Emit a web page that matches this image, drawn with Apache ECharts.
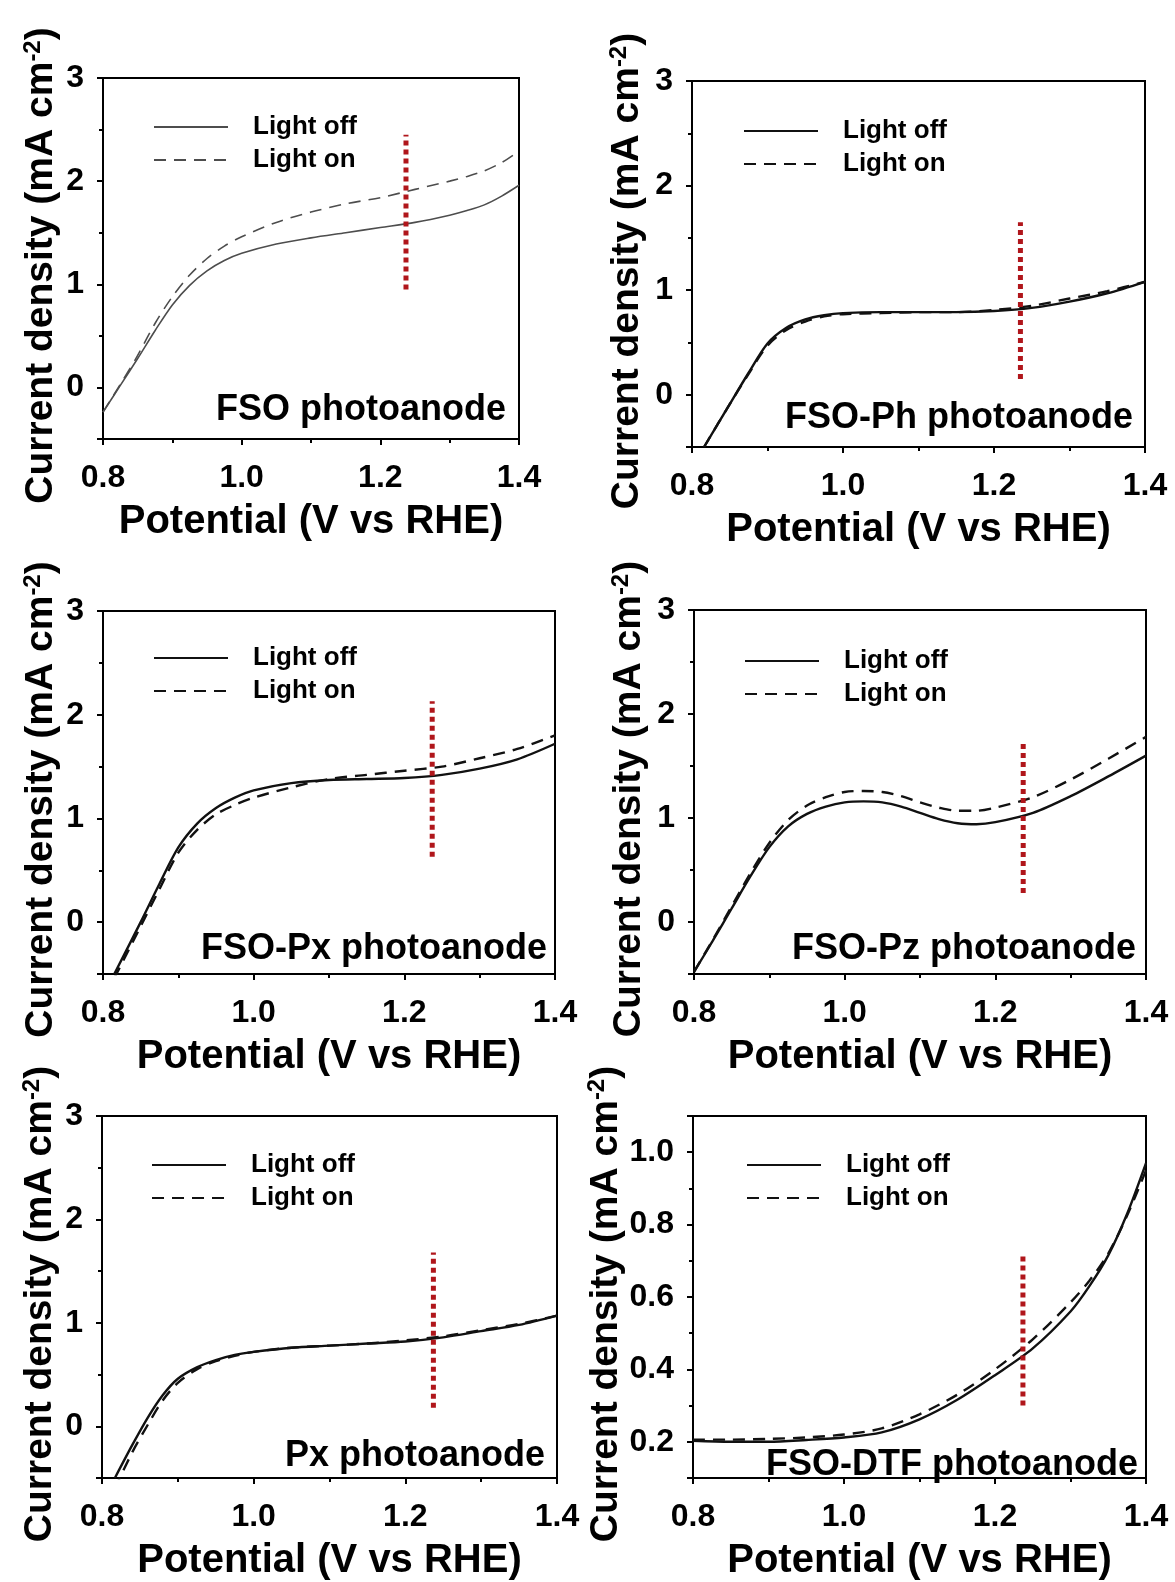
<!DOCTYPE html>
<html><head><meta charset="utf-8">
<script src="https://cdn.jsdelivr.net/npm/echarts@6/dist/echarts.min.js"></script>
<style>html,body{margin:0;padding:0;background:#fff}#c{width:1175px;height:1582px}</style>
</head><body><div id="c"></div>
<script>
const FONT = "'Liberation Sans', Arial, Helvetica, sans-serif";

// ---------- data ----------
const legendNames = ['Light off', 'Light on'];
const xTickLabels = ['0.8', '1.0', '1.2', '1.4'];
const panelNames = ['FSO photoanode', 'FSO-Ph photoanode', 'FSO-Px photoanode', 'FSO-Pz photoanode', 'Px photoanode', 'FSO-DTF photoanode'];

const fsoX   = [0.80, 0.825, 0.85, 0.875, 0.90, 0.925, 0.95, 0.975, 1.00, 1.05, 1.10, 1.15, 1.20, 1.25, 1.30, 1.325, 1.35, 1.375, 1.40];
const fsoOff = [-0.24, 0.02, 0.28, 0.55, 0.80, 0.99, 1.13, 1.23, 1.30, 1.39, 1.45, 1.50, 1.55, 1.60, 1.67, 1.715, 1.77, 1.855, 1.96];
const fsoOn  = [-0.24, 0.03, 0.31, 0.62, 0.88, 1.09, 1.25, 1.37, 1.46, 1.60, 1.70, 1.78, 1.84, 1.92, 2.00, 2.045, 2.10, 2.18, 2.29];

const phX   = [0.816, 0.85, 0.875, 0.90, 0.925, 0.95, 0.975, 1.00, 1.05, 1.10, 1.15, 1.20, 1.25, 1.30, 1.35, 1.40];
const phOff = [-0.50, -0.09, 0.21, 0.49, 0.64, 0.72, 0.76, 0.78, 0.79, 0.79, 0.79, 0.80, 0.83, 0.89, 0.97, 1.08];
const phOn  = [-0.50, -0.09, 0.20, 0.47, 0.62, 0.70, 0.75, 0.77, 0.78, 0.79, 0.79, 0.81, 0.85, 0.92, 0.99, 1.08];

const pxfX   = [0.815, 0.85, 0.875, 0.90, 0.925, 0.95, 0.975, 1.00, 1.05, 1.10, 1.15, 1.20, 1.25, 1.30, 1.35, 1.40];
const pxfOff = [-0.50, 0.00, 0.37, 0.72, 0.95, 1.10, 1.20, 1.27, 1.34, 1.37, 1.38, 1.39, 1.42, 1.48, 1.57, 1.72];
const pxfOn  = [-0.54, -0.04, 0.32, 0.67, 0.89, 1.04, 1.13, 1.20, 1.30, 1.38, 1.42, 1.46, 1.50, 1.58, 1.67, 1.80];

const pzX   = [0.80, 0.825, 0.85, 0.875, 0.90, 0.925, 0.95, 0.975, 1.00, 1.025, 1.05, 1.075, 1.10, 1.125, 1.15, 1.175, 1.20, 1.25, 1.30, 1.35, 1.40];
const pzOff = [-0.48, -0.18, 0.13, 0.44, 0.72, 0.92, 1.04, 1.11, 1.15, 1.16, 1.15, 1.11, 1.05, 0.99, 0.95, 0.94, 0.96, 1.05, 1.21, 1.40, 1.60];
const pzOn  = [-0.48, -0.17, 0.15, 0.47, 0.76, 0.98, 1.12, 1.20, 1.25, 1.26, 1.25, 1.21, 1.15, 1.10, 1.07, 1.07, 1.10, 1.20, 1.37, 1.57, 1.78];

const pxX   = [0.817, 0.84, 0.86, 0.88, 0.90, 0.925, 0.95, 0.975, 1.00, 1.05, 1.10, 1.15, 1.20, 1.25, 1.30, 1.35, 1.40];
const pxOff = [-0.50, -0.18, 0.08, 0.30, 0.46, 0.57, 0.64, 0.69, 0.72, 0.76, 0.78, 0.80, 0.82, 0.86, 0.92, 0.98, 1.07];
const pxOn  = [-0.60, -0.25, 0.01, 0.25, 0.42, 0.55, 0.63, 0.68, 0.72, 0.76, 0.78, 0.80, 0.83, 0.87, 0.93, 0.99, 1.07];

const dtfX   = [0.80, 0.85, 0.90, 0.95, 1.00, 1.05, 1.10, 1.15, 1.20, 1.25, 1.30, 1.325, 1.35, 1.375, 1.40];
const dtfOff = [0.203, 0.200, 0.200, 0.205, 0.212, 0.226, 0.262, 0.316, 0.384, 0.458, 0.560, 0.630, 0.715, 0.830, 0.970];
const dtfOn  = [0.206, 0.206, 0.208, 0.212, 0.220, 0.237, 0.276, 0.330, 0.400, 0.483, 0.585, 0.645, 0.720, 0.825, 0.950];

// 1.23 V marker (x, y-from, y-to) for each panel
const markerX = [1.237, 1.235, 1.237, 1.237, 1.237, 1.237];
const markerFrom = [0.95, 0.15, 0.63, 0.28, 0.18, 0.30];
const markerTo   = [2.45, 1.65, 2.13, 1.75, 1.68, 0.72];

const yMin = [-0.5, -0.5, -0.5, -0.5, -0.5, 0.1];
const yMax = [3, 3, 3, 3, 3, 1.1];

const curves = [
  [fsoX, fsoOff, fsoOn], [phX, phOff, phOn], [pxfX, pxfOff, pxfOn],
  [pzX, pzOff, pzOn], [pxX, pxOff, pxOn], [dtfX, dtfOff, dtfOn]
];

// ---------- layout / style ----------
const layout = [
  {grid: {left: 103, top: 78, width: 416, height: 361}, legend: {left: 153, top: 114}, title: {right: 669, top: 392}, yGap: 42, color: '#4d4d4d', lw: 1.6},
  {grid: {left: 692, top: 81, width: 453, height: 366}, legend: {left: 743, top: 118}, title: {right: 42, top: 400}, yGap: 45, color: '#111', lw: 2.4},
  {grid: {left: 103, top: 611, width: 452, height: 363}, legend: {left: 153, top: 645}, title: {right: 628, top: 931}, yGap: 42, color: '#111', lw: 2.4},
  {grid: {left: 694, top: 610, width: 452, height: 364}, legend: {left: 744, top: 648}, title: {right: 39, top: 931}, yGap: 45, color: '#111', lw: 2.4},
  {grid: {left: 102, top: 1116, width: 455, height: 364}, legend: {left: 151, top: 1152}, title: {right: 630, top: 1438}, yGap: 42, color: '#111', lw: 2.4},
  {grid: {left: 693, top: 1116, width: 453, height: 364}, legend: {left: 746, top: 1152}, title: {right: 37, top: 1447}, yGap: 45, color: '#111', lw: 2.4}
];

const grids = [], xAxes = [], yAxes = [], series = [], legends = [], titles = [];
const axisLineStyle = {color: '#000', width: 2};

layout.forEach((L, i) => {
  grids.push(Object.assign({show: true, borderColor: '#000', borderWidth: 2, backgroundColor: 'transparent'}, L.grid));
  xAxes.push({
    gridIndex: i, type: 'value', min: 0.8, max: 1.4, interval: 0.2,
    axisLine: {show: true, onZero: false, lineStyle: axisLineStyle},
    axisTick: {show: true, inside: false, length: 6, lineStyle: axisLineStyle},
    minorTick: {show: true, splitNumber: 2, length: 4, lineStyle: axisLineStyle},
    splitLine: {show: false},
    axisLabel: {margin: 23, fontSize: 32, fontWeight: 'bold', fontFamily: FONT, color: '#000',
      formatter: v => { const k = Math.round((v - 0.8) / 0.2); return xTickLabels[k] || ''; }},
    name: 'Potential (V vs RHE)', nameLocation: 'middle', nameGap: 63,
    nameTextStyle: {fontSize: 40, fontWeight: 'bold', fontFamily: FONT, color: '#000'}
  });
  const dtf = i === 5;
  yAxes.push({
    gridIndex: i, type: 'value', min: yMin[i], max: yMax[i], splitNumber: dtf ? 5 : 4,
    axisLine: {show: true, onZero: false, lineStyle: axisLineStyle},
    axisTick: {show: true, inside: false, length: 6, lineStyle: axisLineStyle},
    minorTick: {show: true, splitNumber: 2, length: 4, lineStyle: axisLineStyle},
    splitLine: {show: false},
    axisLabel: {margin: 19, fontSize: 32, fontWeight: 'bold', fontFamily: FONT, color: '#000',
      showMinLabel: false, showMaxLabel: !dtf,
      formatter: v => dtf ? v.toFixed(1) : String(Math.round(v))},
    name: '{a|Current density (mA cm}{s|-2}{a|)}', nameLocation: 'middle', nameGap: L.yGap,
    nameTextStyle: {
      padding: [0, 14, 0, 0],
      rich: {
        a: {fontSize: 39, fontWeight: 'bold', fontFamily: FONT, color: '#000', lineHeight: 42, verticalAlign: 'bottom'},
        s: {fontSize: 24, fontWeight: 'bold', fontFamily: FONT, color: '#000', lineHeight: 42, verticalAlign: 'bottom', padding: [0, 0, 16, 0]}
      }
    }
  });
  const [xs, off, on] = curves[i];
  const c = L.color;
  series.push({
    name: legendNames[0] + '|' + i, type: 'line', xAxisIndex: i, yAxisIndex: i,
    data: xs.map((x, j) => [x, off[j]]), symbol: 'none', smooth: 0.3,
    lineStyle: {color: c, width: L.lw, type: 'solid'}, itemStyle: {color: c}, z: 3
  });
  series.push({
    name: legendNames[1] + '|' + i, type: 'line', xAxisIndex: i, yAxisIndex: i,
    data: xs.map((x, j) => [x, on[j]]), symbol: 'none', smooth: 0.3,
    lineStyle: {color: c, width: L.lw, type: [12, 8]}, itemStyle: {color: c}, z: 3
  });
  series.push({
    name: 'marker' + i, type: 'line', xAxisIndex: i, yAxisIndex: i, silent: true,
    data: [[markerX[i], markerFrom[i]], [markerX[i], markerTo[i]]], symbol: 'none',
    lineStyle: {color: '#b0161b', width: 5, type: [5, 4], cap: 'butt'}, z: 4
  });
  legends.push({
    data: [legendNames[0] + '|' + i, legendNames[1] + '|' + i],
    formatter: n => n.split('|')[0],
    orient: 'vertical', left: L.legend.left, top: L.legend.top, padding: 0,
    itemWidth: 74, itemHeight: 14, itemGap: 7, selectedMode: false,
    itemStyle: {opacity: 0},
    textStyle: {fontSize: 26, fontWeight: 'bold', fontFamily: FONT, color: '#000', padding: [0, 0, 0, 20]}
  });
  titles.push({
    text: panelNames[i], right: L.title.right, top: L.title.top, padding: 0,
    textStyle: {fontSize: 36, fontWeight: 'bold', fontFamily: FONT, color: '#000'}
  });
});

const chart = echarts.init(document.getElementById('c'), null, {renderer: 'canvas'});
chart.setOption({
  backgroundColor: '#fff', animation: false,
  title: titles, grid: grids, xAxis: xAxes, yAxis: yAxes, legend: legends, series: series
});
</script></body></html>
